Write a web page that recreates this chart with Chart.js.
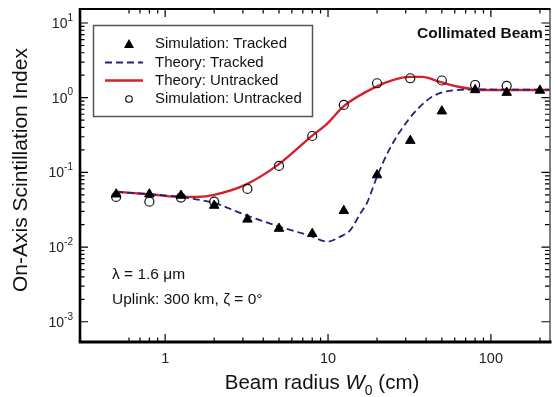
<!DOCTYPE html>
<html>
<head>
<meta charset="utf-8">
<script src="https://cdn.jsdelivr.net/npm/chart.js@4.4.0/dist/chart.umd.min.js"></script>
<style>
html, body { margin: 0; padding: 0; background: #fff; }
canvas { display: block; }
</style>
</head>
<body>
<canvas id="myChart" width="556" height="397"></canvas>
<script>

// beam radius W0 (cm) of the simulation runs
const simRadius = [0.5, 0.8, 1.25, 2, 3.2, 5, 8, 12.5, 20, 32, 50, 80, 125, 200];
const simTracked = [0.051, 0.051, 0.049, 0.036, 0.0235, 0.0177, 0.0151, 0.0306, 0.092, 0.266, 0.66, 1.27, 1.17, 1.25];
const simUntracked = [0.047, 0.0405, 0.046, 0.0405, 0.06, 0.122, 0.307, 0.8, 1.56, 1.82, 1.7, 1.48, 1.44, null];

// theory curves
const trackedRadius = [0.5, 0.8, 1.25, 1.55, 2, 3.1, 4.9, 7.8, 9.9, 11.9, 13.7, 15.8, 17.3, 20, 24, 31, 40, 48, 63, 88, 125, 229];
const theoryTracked = [0.055, 0.051, 0.047, 0.0436, 0.039, 0.027, 0.0191, 0.0141, 0.0118, 0.0138, 0.0169, 0.0283, 0.0385, 0.088, 0.21, 0.5, 0.9, 1.14, 1.27, 1.29, 1.28, 1.28];
const untrackedRadius = [0.5, 0.8, 1.25, 1.6, 2, 3.1, 4.9, 8, 9.9, 12.5, 20, 25, 31.7, 38, 48, 63, 88, 125, 229];
const theoryUntracked = [0.055, 0.051, 0.047, 0.047, 0.05, 0.068, 0.125, 0.31, 0.45, 0.77, 1.42, 1.72, 1.9, 1.9, 1.64, 1.4, 1.27, 1.27, 1.27];

const xTickLabels = ['1', '10', '100'];
const yTickExponents = ['-3', '-2', '-1', '0', '1'];

const seriesNames = ['Simulation: Tracked', 'Theory: Tracked', 'Theory: Untracked', 'Simulation: Untracked'];

const FONT = '"Liberation Sans", Arial, sans-serif';

function pts(xs, ys) {
    return xs.map((x, i) => ({ x: x, y: ys[i] })).filter(p => p.y !== null);
}

const framePlugin = {
    id: 'frame',
    afterDraw(chart) {
        const ctx = chart.ctx;
        const a = chart.chartArea;
        const xs = chart.scales.x;
        const ys = chart.scales.y;
        ctx.save();
        ctx.strokeStyle = '#000';
        ctx.fillStyle = '#000';

        // ticks on all four sides, pointing in
        ctx.lineWidth = 1.2;
        for (let d = -1; d <= 2; d++) {
            for (let m = 1; m <= 9; m++) {
                const v = m * Math.pow(10, d);
                if (v < 0.6 || v > xs.max) continue;
                const px = xs.getPixelForValue(v);
                const len = m === 1 ? 8 : 4.5;
                ctx.beginPath();
                ctx.moveTo(px, a.bottom); ctx.lineTo(px, a.bottom - len);
                ctx.moveTo(px, a.top); ctx.lineTo(px, a.top + len);
                ctx.stroke();
            }
        }
        for (let d = -3; d <= 1; d++) {
            for (let m = 1; m <= 9; m++) {
                const v = m * Math.pow(10, d);
                if (v < ys.min || v > ys.max) continue;
                const py = ys.getPixelForValue(v);
                const len = m === 1 ? 8 : 4.5;
                ctx.beginPath();
                ctx.moveTo(a.left, py); ctx.lineTo(a.left + len, py);
                ctx.moveTo(a.right, py); ctx.lineTo(a.right - len, py);
                ctx.stroke();
            }
        }

        // frame
        ctx.lineWidth = 2;
        ctx.beginPath();
        ctx.moveTo(a.left, a.top); ctx.lineTo(a.right + 1, a.top);
        ctx.stroke();
        ctx.lineWidth = 1;
        ctx.beginPath();
        ctx.moveTo(a.right + 0.5, a.top); ctx.lineTo(a.right + 0.5, a.bottom);
        ctx.stroke();
        ctx.lineWidth = 2.6;
        ctx.beginPath();
        ctx.moveTo(a.left, a.top - 1); ctx.lineTo(a.left, a.bottom);
        ctx.stroke();
        ctx.lineWidth = 3;
        ctx.beginPath();
        ctx.moveTo(a.left - 1.3, a.bottom); ctx.lineTo(a.right + 2, a.bottom);
        ctx.stroke();

        // tick labels
        ctx.fillStyle = '#222';
        ctx.font = '14.5px ' + FONT;
        ctx.textAlign = 'center';
        ctx.textBaseline = 'middle';
        xTickLabels.forEach(t => {
            ctx.fillText(t, xs.getPixelForValue(Number(t)), a.bottom + 17);
        });
        yTickExponents.forEach(e => {
            const py = ys.getPixelForValue(Math.pow(10, Number(e)));
            ctx.font = '10px ' + FONT;
            ctx.textAlign = 'left';
            const ew = ctx.measureText(e).width;
            ctx.fillText(e, 73 - ew, py - 5);
            ctx.font = '14px ' + FONT;
            ctx.textAlign = 'right';
            ctx.fillText('10', 73 - ew, py + 1);
        });

        // axis titles
        ctx.fillStyle = '#111';
        ctx.font = '21px ' + FONT;
        ctx.save();
        ctx.translate(21, 170);
        ctx.rotate(-Math.PI / 2);
        ctx.textAlign = 'center';
        ctx.fillText('On-Axis Scintillation Index', 0, 0);
        ctx.restore();

        const parts = [
            ['Beam radius ', '20.5px ' + FONT, 0],
            ['W', 'italic 20.5px ' + FONT, 0],
            ['0', '14px ' + FONT, 6],
            [' (cm)', '20.5px ' + FONT, 0]
        ];
        let total = 0;
        parts.forEach(p => { ctx.font = p[1]; total += ctx.measureText(p[0]).width; });
        let tx = 322 - total / 2;
        ctx.textAlign = 'left';
        ctx.textBaseline = 'alphabetic';
        parts.forEach(p => {
            ctx.font = p[1];
            ctx.fillText(p[0], tx, 389 + p[2]);
            tx += ctx.measureText(p[0]).width;
        });

        // notes
        ctx.font = 'bold 15.5px ' + FONT;
        ctx.fillText('Collimated Beam', 417, 38);
        ctx.font = '15.5px ' + FONT;
        ctx.fillText('\u03bb = 1.6 \u03bcm', 112, 279);
        ctx.fillText('Uplink: 300 km, \u03b6 = 0\u00b0', 112, 304);

        // legend box
        ctx.fillStyle = '#fff';
        ctx.fillRect(93.5, 25.5, 219, 91);
        ctx.strokeStyle = '#555';
        ctx.lineWidth = 1.5;
        ctx.strokeRect(93.5, 25.5, 219, 91);
        const rows = [44, 62.5, 80.5, 99];
        const ds = chart.data.datasets;
        rows.forEach((ry, i) => {
            const d = ds[i];
            ctx.save();
            if (d.showLine) {
                ctx.strokeStyle = d.borderColor;
                ctx.lineWidth = d.borderWidth;
                ctx.setLineDash(d.borderDash || []);
                ctx.beginPath();
                ctx.moveTo(105, ry); ctx.lineTo(143, ry);
                ctx.stroke();
            } else if (d.pointStyle === 'triangle') {
                ctx.fillStyle = '#000';
                ctx.beginPath();
                ctx.moveTo(129, ry - 5); ctx.lineTo(134, ry + 4); ctx.lineTo(124, ry + 4);
                ctx.closePath();
                ctx.fill();
            } else {
                ctx.strokeStyle = '#000';
                ctx.lineWidth = 1.1;
                ctx.beginPath();
                ctx.arc(129, ry, 3.3, 0, Math.PI * 2);
                ctx.stroke();
            }
            ctx.restore();
            ctx.fillStyle = '#111';
            ctx.font = '15px ' + FONT;
            ctx.textBaseline = 'middle';
            ctx.fillText(d.label, 155, ry);
        });
        ctx.restore();
    }
};

const myChart = new Chart(document.getElementById('myChart').getContext('2d'), {
    type: 'scatter',
    data: {
        datasets: [
            {
                label: seriesNames[0],
                data: pts(simRadius, simTracked),
                showLine: false,
                pointStyle: 'triangle',
                radius: 5.5,
                backgroundColor: '#000',
                borderColor: '#000',
                borderWidth: 1,
                order: 0
            },
            {
                label: seriesNames[1],
                data: pts(trackedRadius, theoryTracked),
                showLine: true,
                borderColor: '#22227a',
                borderWidth: 1.8,
                borderDash: [7, 4],
                pointRadius: 0,
                cubicInterpolationMode: 'monotone',
                order: 2
            },
            {
                label: seriesNames[2],
                data: pts(untrackedRadius, theoryUntracked),
                showLine: true,
                borderColor: '#d42028',
                borderWidth: 2.4,
                pointRadius: 0,
                cubicInterpolationMode: 'monotone',
                order: 3
            },
            {
                label: seriesNames[3],
                data: pts(simRadius, simUntracked),
                showLine: false,
                pointStyle: 'circle',
                radius: 4.5,
                backgroundColor: 'rgba(0,0,0,0)',
                borderColor: '#111',
                borderWidth: 1.2,
                order: 1
            }
        ]
    },
    options: {
        responsive: false,
        animation: false,
        layout: {
            padding: { left: 80, right: 1, top: 9, bottom: 55 }
        },
        scales: {
            x: { type: 'logarithmic', min: 0.3027, max: 229, display: false },
            y: { type: 'logarithmic', min: 0.000536, max: 15.4, display: false }
        },
        plugins: {
            legend: { display: false },
            tooltip: { enabled: false }
        }
    },
    plugins: [framePlugin]
});

</script>
</body>
</html>
